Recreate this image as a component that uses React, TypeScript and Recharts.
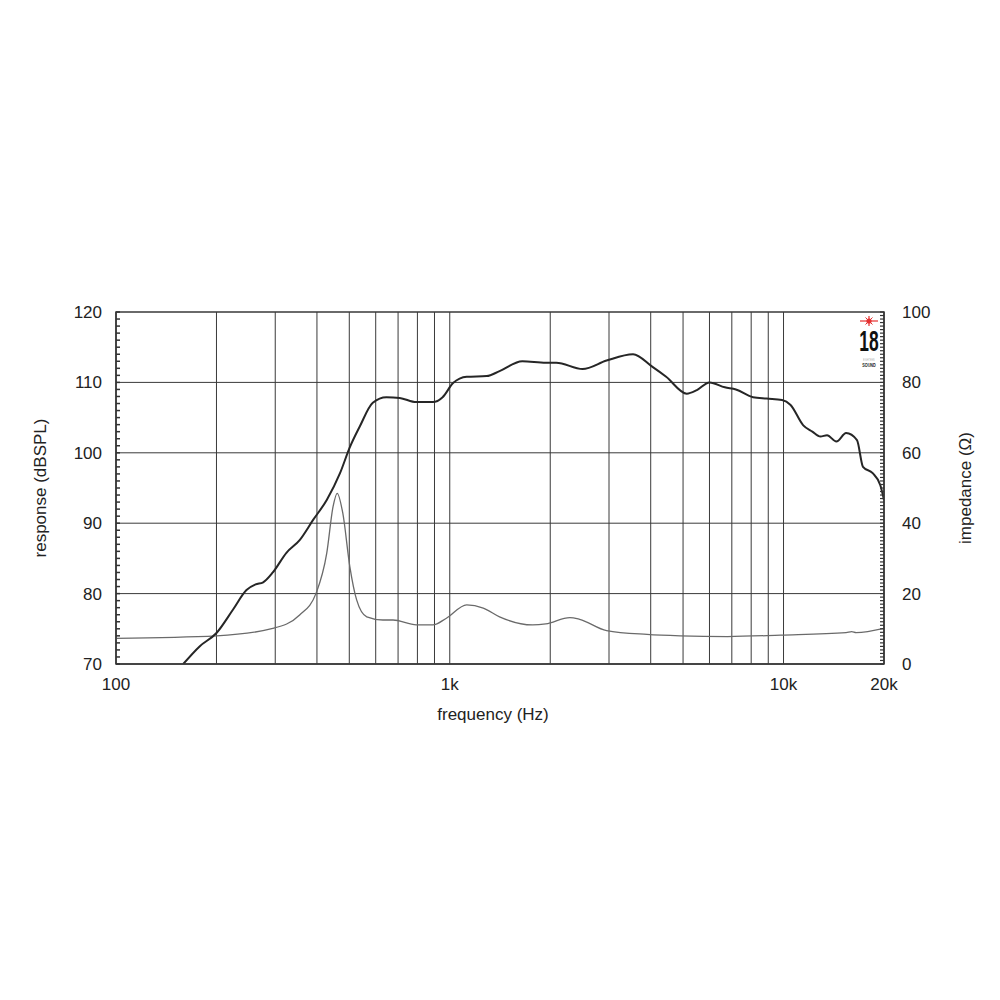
import React from 'react';
import { LineChart, Line, XAxis, YAxis, ReferenceLine, ReferenceArea } from 'recharts';

const splFreq = [159, 178, 200, 224, 246, 262, 276, 295, 324, 355, 390, 428, 469, 502, 537, 588, 646, 708, 794, 890, 952, 1023, 1124, 1290, 1410, 1650, 1940, 2085, 2500, 2950, 3540, 4050, 4450, 5130, 5500, 6000, 6670, 7200, 8100, 8900, 9900, 10500, 11460, 12200, 12900, 13500, 14400, 15400, 16600, 17300, 18500, 19500, 20000];
const splValues = [70, 72.5, 74.4, 77.7, 80.5, 81.3, 81.6, 83, 85.8, 87.6, 90.5, 93.3, 97.1, 100.8, 103.7, 107.1, 107.9, 107.8, 107.2, 107.2, 107.9, 109.9, 110.8, 110.9, 111.6, 113.0, 112.8, 112.8, 111.9, 113.1, 114.0, 112.2, 110.8, 108.4, 108.9, 110.0, 109.3, 109.0, 107.9, 107.7, 107.5, 106.8, 103.9, 103.0, 102.3, 102.5, 101.6, 102.8, 101.8, 98.0, 97.1, 95.4, 93.3];

const impFreq = [100, 200, 295, 355, 398, 428, 447, 460, 478, 502, 526, 564, 630, 676, 794, 890, 977, 1124, 1260, 1410, 1770, 1940, 2290, 2450, 2950, 3900, 4900, 6800, 9800, 15400, 16000, 16500, 20000];
const impValues = [7.3, 8.0, 10.1, 13.9, 20.2, 31.5, 44.7, 48.5, 42.9, 27.6, 18.2, 13.4, 12.5, 12.5, 11.1, 11.1, 13.0, 16.8, 15.9, 13.4, 11.1, 11.4, 13.2, 12.7, 9.5, 8.4, 8.0, 7.8, 8.2, 8.9, 9.2, 8.9, 10.1];

const xTicks = [100, 1000, 10000, 20000];
const xTickLabels = ['100', '1k', '10k', '20k'];
const xGrid = [200, 300, 400, 500, 600, 700, 800, 900, 1000, 2000, 3000, 4000, 5000, 6000, 7000, 8000, 9000, 10000];
const splGrid = [80, 90, 100, 110];
const splTicks = Array.from({ length: 51 }, (_, i) => 70 + i);
const impTicks = Array.from({ length: 101 }, (_, i) => i);

const allFreq = Array.from(new Set([...splFreq, ...impFreq])).sort((a, b) => a - b);
const data = allFreq.map((f) => {
  const si = splFreq.indexOf(f);
  const ii = impFreq.indexOf(f);
  return {
    f,
    spl: si >= 0 ? splValues[si] : undefined,
    imp: ii >= 0 ? impValues[ii] : undefined,
  };
});

const FONT = '"Liberation Sans", Arial, Helvetica, sans-serif';
const TXT = '#222';
const GRID = '#3a3a3a';
const MARGIN = 14;
const MINOR = 4;

const LeftTick = (props: any) => {
  const { x, y, payload } = props;
  const v = payload.value as number;
  const edge = x + MARGIN;
  return (
    <g>
      <line x1={edge} y1={y} x2={edge + MINOR} y2={y} stroke="#333" strokeWidth={1.5} />
      {v % 10 === 0 && (
        <text x={x} y={y} dy="0.35em" textAnchor="end" fill={TXT} fontSize={17} fontFamily={FONT}>
          {v}
        </text>
      )}
    </g>
  );
};

const RightTick = (props: any) => {
  const { x, y, payload } = props;
  const v = payload.value as number;
  const edge = x - MARGIN;
  return (
    <g>
      <line x1={edge} y1={y} x2={edge - MINOR} y2={y} stroke="#333" strokeWidth={1.2} />
      {v % 20 === 0 && (
        <text x={x + 4} y={y} dy="0.35em" textAnchor="start" fill={TXT} fontSize={17} fontFamily={FONT}>
          {v}
        </text>
      )}
    </g>
  );
};

export default function App() {
  return (
    <div style={{ position: 'absolute', left: 0, top: 0, width: 1000, height: 1000, background: '#fff' }}>
      <LineChart
        width={1000}
        height={1000}
        data={data}
        margin={{ top: 312, right: 16, bottom: 276, left: 16 }}
        style={{ fontFamily: FONT }}
      >
        <XAxis
          dataKey="f"
          type="number"
          scale="log"
          domain={[100, 20000]}
          allowDataOverflow
          ticks={xTicks}
          interval={0}
          tickFormatter={(v: number) => xTickLabels[xTicks.indexOf(v)] ?? ''}
          tickLine={false}
          tickSize={0}
          tickMargin={14}
          height={60}
          axisLine={{ stroke: GRID, strokeWidth: 1.5 }}
          tick={{ fill: TXT, fontSize: 17, fontFamily: FONT }}
          label={{ value: 'frequency (Hz)', position: 'insideBottom', offset: 4, dx: -7, fill: TXT, fontSize: 17, fontFamily: FONT }}
        />
        <YAxis
          yAxisId="left"
          orientation="left"
          type="number"
          domain={[70, 120]}
          allowDataOverflow
          ticks={splTicks}
          interval={0}
          tickSize={0}
          tickMargin={MARGIN}
          tickLine={false}
          width={100}
          axisLine={{ stroke: GRID, strokeWidth: 1.5 }}
          tick={LeftTick}
          label={{ value: 'response (dBSPL)', angle: -90, position: 'insideLeft', offset: 24, style: { textAnchor: 'middle' }, fill: TXT, fontSize: 17, fontFamily: FONT }}
        />
        <YAxis
          yAxisId="right"
          orientation="right"
          type="number"
          domain={[0, 100]}
          allowDataOverflow
          ticks={impTicks}
          interval={0}
          tickSize={0}
          tickMargin={MARGIN}
          tickLine={false}
          width={100}
          axisLine={{ stroke: GRID, strokeWidth: 1.5 }}
          tick={RightTick}
          label={{ value: 'impedance (Ω)', angle: -90, position: 'insideRight', offset: 19, style: { textAnchor: 'middle' }, fill: TXT, fontSize: 17, fontFamily: FONT }}
        />
        {xGrid.map((x) => (
          <ReferenceLine key={'vx' + x} x={x} yAxisId="left" stroke={GRID} strokeWidth={1} ifOverflow="hidden" />
        ))}
        {splGrid.map((y) => (
          <ReferenceLine key={'hy' + y} y={y} yAxisId="left" stroke={GRID} strokeWidth={1} />
        ))}
        <ReferenceArea x1={100} x2={20000} y1={70} y2={120} yAxisId="left" fill="none" fillOpacity={0} stroke={GRID} strokeWidth={1.5} />
        <Line
          yAxisId="right"
          dataKey="imp"
          type="monotone"
          stroke="#6a6a6a"
          strokeWidth={1.3}
          dot={false}
          connectNulls
          isAnimationActive={false}
        />
        <Line
          yAxisId="left"
          dataKey="spl"
          type="monotone"
          stroke="#262626"
          strokeWidth={2}
          dot={false}
          connectNulls
          isAnimationActive={false}
        />
      </LineChart>
      <svg
        width={30}
        height={60}
        style={{ position: 'absolute', left: 854, top: 312 }}
        viewBox="0 0 30 60"
      >
        <line x1={6} y1={9} x2={24} y2={9} stroke="#e53030" strokeWidth={1.2} />
        <line x1={15} y1={4} x2={15} y2={14} stroke="#e53030" strokeWidth={1.2} />
        <line x1={11.5} y1={5.5} x2={18.5} y2={12.5} stroke="#e53030" strokeWidth={1} />
        <line x1={18.5} y1={5.5} x2={11.5} y2={12.5} stroke="#e53030" strokeWidth={1} />
        <circle cx={15} cy={9} r={2.6} fill="#e53030" />
        <g transform="translate(15 38.5) scale(0.58 1)">
          <text x={0} y={0} textAnchor="middle" fontFamily={FONT} fontWeight="bold" fontSize={30} fill="#111">18</text>
        </g>
        <g transform="translate(15 48.5) scale(0.45 1)">
          <text x={0} y={0} textAnchor="middle" fontFamily={FONT} fontSize={3.5} letterSpacing={1} fill="#888">EIGHTEEN</text>
        </g>
        <g transform="translate(15 54.5) scale(0.75 1)">
          <text x={0} y={0} textAnchor="middle" fontFamily={FONT} fontWeight="bold" fontSize={5} fill="#222">SOUND</text>
        </g>
      </svg>
    </div>
  );
}
